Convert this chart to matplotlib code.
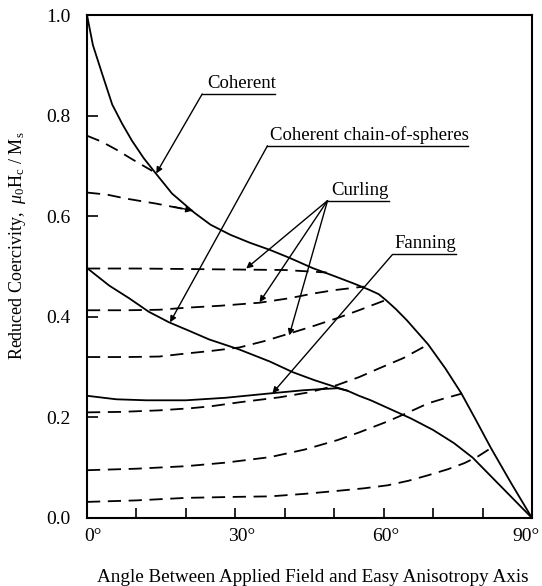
import matplotlib
matplotlib.use('Agg')
import matplotlib.pyplot as plt
from matplotlib.transforms import ScaledTranslation

# ---------------- data ----------------
coherent_x = [0, 1.2, 3.0, 5.1, 7.1, 9.1, 11.5, 14, 17.2, 21.7, 25, 29, 33, 37, 41,
              45.6, 50, 54, 57, 59, 60.6, 62.5, 64.7, 69, 72.5, 75.7, 78.7, 81.7, 85.8, 90]
coherent_y = [1.0, 0.94, 0.885, 0.822, 0.784, 0.75, 0.715, 0.684, 0.645, 0.607, 0.583,
              0.563, 0.547, 0.533, 0.517, 0.497, 0.481, 0.466, 0.454, 0.445, 0.432, 0.415,
              0.393, 0.345, 0.297, 0.248, 0.194, 0.139, 0.069, 0.0]

chain_x = [0, 4.5, 8.5, 12.5, 16.6, 20.7, 24.7, 30.8, 37, 41.6, 46, 51, 52.7, 55, 57.4,
           61, 65.5, 70, 74.2, 78, 81.1, 85, 90]
chain_y = [0.497, 0.462, 0.437, 0.41, 0.389, 0.372, 0.355, 0.335, 0.311, 0.29, 0.274,
           0.258, 0.253, 0.243, 0.234, 0.218, 0.198, 0.175, 0.149, 0.12, 0.089, 0.05, 0.0]

fanning_x = [0, 5.9, 12, 20, 28, 37.3, 43.8, 47, 50.7, 52.7]
fanning_y = [0.243, 0.236, 0.234, 0.234, 0.239, 0.248, 0.254, 0.256, 0.258, 0.253]

curling_x = [
    [0, 3, 6, 9, 13.2],
    [0, 4, 7.9, 14, 21.3],
    [0, 10, 20, 30, 40, 48.5],
    [0, 8, 14.6, 20, 27, 34.9, 41, 45.6, 50, 56],
    [0, 8, 14.6, 20, 25, 30.8, 36, 41, 45.6, 50.5, 55, 60.6],
    [0, 7, 14.6, 20.7, 25, 30.8, 39, 45, 50.5, 55, 59.2, 64, 69],
    [0, 10, 20, 28, 37, 44, 50.7, 55, 60.8, 65, 69, 72, 75.7],
    [0, 10, 20, 30, 37, 44, 50.7, 56, 60.8, 65, 69, 73, 76.3, 79, 81.7],
]
curling_y = [
    [0.76, 0.748, 0.732, 0.714, 0.69],
    [0.647, 0.643, 0.635, 0.625, 0.611],
    [0.496, 0.496, 0.495, 0.494, 0.493, 0.488],
    [0.413, 0.413, 0.414, 0.418, 0.422, 0.428, 0.437, 0.446, 0.453, 0.46],
    [0.32, 0.32, 0.321, 0.327, 0.332, 0.339, 0.352, 0.367, 0.381, 0.397, 0.413, 0.434],
    [0.21, 0.211, 0.214, 0.218, 0.222, 0.23, 0.24, 0.25, 0.264, 0.28, 0.298, 0.318, 0.345],
    [0.095, 0.098, 0.103, 0.11, 0.121, 0.136, 0.155, 0.17, 0.192, 0.21, 0.228, 0.237, 0.247],
    [0.032, 0.035, 0.04, 0.042, 0.043, 0.048, 0.054, 0.059, 0.065, 0.074, 0.085, 0.097,
     0.109, 0.122, 0.139],
]

x_ticks = [0, 30, 60, 90]
x_ticklabels = ['0°', '30°', '60°', '90°']
x_minor = [10, 20, 40, 50, 70, 80]
y_ticks = [0.0, 0.2, 0.4, 0.6, 0.8, 1.0]
y_ticklabels = ['0.0', '0.2', '0.4', '0.6', '0.8', '1.0']

# ---------------- style ----------------
plt.rcParams['font.family'] = ['Liberation Serif', 'DejaVu Serif']
plt.rcParams['mathtext.fontset'] = 'custom'
plt.rcParams['mathtext.rm'] = 'Liberation Serif'
plt.rcParams['mathtext.it'] = 'Liberation Serif:italic'
plt.rcParams['lines.scale_dashes'] = False

W, H = 542, 586
fig = plt.figure(figsize=(W / 100, H / 100), dpi=100)
ax = fig.add_axes([87 / W, 68 / H, 445 / W, 503 / H])
ax.set_xlim(0, 90)
ax.set_ylim(0, 1.0)

lw = 1.3
ax.plot(coherent_x, coherent_y, color='black', lw=lw, solid_joinstyle='round')
ax.plot(chain_x, chain_y, color='black', lw=lw, solid_joinstyle='round')
ax.plot(fanning_x, fanning_y, color='black', lw=lw, solid_joinstyle='round')
for cx, cy in zip(curling_x, curling_y):
    ax.plot(cx, cy, color='black', lw=lw, dashes=(9.5, 5.5))

for s in ax.spines.values():
    s.set_linewidth(1.5)

ax.set_xticks(x_ticks)
ax.set_xticklabels(x_ticklabels)
ax.set_xticks(x_minor, minor=True)
ax.set_yticks(y_ticks)
ax.set_yticklabels(y_ticklabels)
ax.tick_params(axis='x', which='both', direction='in', length=7, width=1.2,
               labelsize=14, pad=7)
ax.tick_params(axis='y', which='both', direction='in', length=8, width=1.2,
               labelsize=14, pad=12)

# small horizontal shifts of the x tick labels as in the reference
for lab, dx in zip(ax.get_xticklabels(), [6, 6, 2, -6]):
    lab.set_transform(lab.get_transform() + ScaledTranslation(dx / 100, 0, fig.dpi_scale_trans))

fig.text(313 / W, (H - 578) / H,
         'Angle Between Applied Field and Easy Anisotropy Axis',
         ha='center', va='center', fontsize=13.8)
fig.text(18 / W, (H - 246) / H,
         r'Reduced Coercivity,  $\mu_0$H$_\mathrm{c}$ / M$_\mathrm{s}$',
         ha='center', va='center', rotation=90, fontsize=13)

# ---------------- annotations ----------------
arrow = dict(arrowstyle='-|>', lw=1.0, color='black', mutation_scale=9,
             shrinkA=0, shrinkB=0)
fs = 13.5

# Coherent
ax.text(31.2, 0.847, 'Coherent', ha='center', va='bottom', fontsize=fs)
ax.plot([23.3, 38.1], [0.843, 0.843], color='black', lw=1.0)
ax.annotate('', xy=(14.0, 0.685), xytext=(23.3, 0.843), arrowprops=arrow)

# Coherent chain-of-spheres
ax.text(57.1, 0.744, 'Coherent chain-of-spheres', ha='center', va='bottom', fontsize=fs)
ax.plot([36.5, 77.0], [0.740, 0.740], color='black', lw=1.0)
ax.annotate('', xy=(16.8, 0.389), xytext=(36.5, 0.740), arrowprops=arrow)

# Curling
ax.text(55.1, 0.635, 'Curling', ha='center', va='bottom', fontsize=fs)
ax.plot([48.65, 61.0], [0.631, 0.631], color='black', lw=1.0)
for tx, ty in [(32.2, 0.496), (34.9, 0.429), (40.9, 0.363)]:
    ax.annotate('', xy=(tx, ty), xytext=(48.65, 0.631), arrowprops=arrow)

# Fanning
ax.text(68.5, 0.528, 'Fanning', ha='center', va='bottom', fontsize=fs)
ax.plot([61.8, 74.6], [0.524, 0.524], color='black', lw=1.0)
ax.annotate('', xy=(37.5, 0.248), xytext=(61.8, 0.524), arrowprops=arrow)

# arrowhead at end of second curling curve
ax.annotate('', xy=(21.3, 0.611), xytext=(17.5, 0.619), arrowprops=arrow)

fig.savefig('out.png', dpi=100)
